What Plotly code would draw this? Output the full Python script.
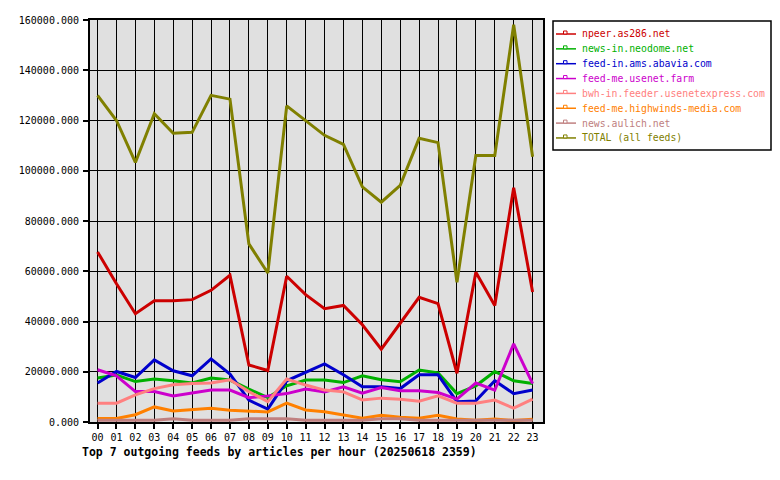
import plotly.graph_objects as go

hours = ["%02d" % h for h in range(24)]

npeer = [67700, 55000, 43100, 48300, 48300, 48700, 52400, 58400, 22700, 20500, 58000, 50700,
         45100, 46400, 38700, 29000, 39300, 49600, 47100, 19400, 59600, 46400, 93200, 51700]
neodome = [17500, 18700, 16100, 17100, 16400, 15500, 17500, 16700, 13100, 9700, 14400, 16700,
           16700, 15700, 18400, 16800, 16000, 20700, 19500, 11300, 14400, 20100, 16400, 15300]
abavia = [15500, 20100, 17700, 24700, 20400, 18400, 25100, 19100, 8700, 5100, 16400, 19700,
          23100, 18800, 14000, 14000, 13300, 18800, 18800, 8100, 8400, 16400, 11300, 12700]
usenetfarm = [20800, 18400, 12100, 12100, 10400, 11500, 12700, 12700, 9700, 10400, 11300, 13100,
              12000, 14000, 11500, 13700, 12400, 12400, 11700, 9100, 15500, 12700, 31100, 15300]
usenetexpress = [7500, 7500, 10800, 13300, 14800, 15300, 15500, 16800, 12100, 8100, 17100, 14700,
                 12700, 12000, 8800, 9500, 9100, 8300, 10400, 7500, 7500, 8700, 5500, 9100]
highwinds = [1400, 1400, 2900, 6000, 4400, 5100, 5500, 4700, 4300, 4000, 7500, 4800,
             4100, 2800, 1500, 2700, 1900, 1500, 2700, 1200, 700, 1200, 600, 1100]
aulich = [700, 700, 700, 700, 1300, 700, 700, 700, 1300, 1300, 1300, 700,
          700, 700, 700, 1300, 1300, 700, 700, 700, 700, 700, 700, 700]
total = [130000, 120000, 103300, 122700, 114900, 115300, 130000, 128500, 70900, 59300, 125800, 120000,
         114100, 110500, 93600, 87500, 94200, 112900, 111200, 55600, 106100, 106100, 158100, 105600]

names = ["npeer.as286.net", "news-in.neodome.net", "feed-in.ams.abavia.com", "feed-me.usenet.farm",
         "bwh-in.feeder.usenetexpress.com", "feed-me.highwinds-media.com", "news.aulich.net",
         "TOTAL (all feeds)"]
series = [npeer, neodome, abavia, usenetfarm, usenetexpress, highwinds, aulich, total]
colors = ["#cc0000", "#00b000", "#0000cc", "#cc00cc", "#ff8080", "#ff8000", "#c08080", "#808000"]

yticks = list(range(0, 160001, 20000))

FONT = "DejaVu Sans Mono"

# plot area in pixels
L, R, T, B = 90, 543, 20, 422
W, H = 780, 480


def px(x):
    return (x - L) / (R - L)


def py(y):
    return (B - y) / (B - T)


fig = go.Figure()
for name, vals, col in zip(names, series, colors):
    fig.add_trace(go.Scatter(x=list(range(24)), y=vals, mode="lines", name=name,
                             line=dict(color=col, width=3), showlegend=False))

shapes = []
annotations = []
# legend box
shapes.append(dict(type="rect", xref="paper", yref="paper", x0=px(553), x1=px(771), y0=py(150), y1=py(21),
                   line=dict(color="black", width=1.5), fillcolor="white", layer="above"))
for i, (name, col) in enumerate(zip(names, colors)):
    yy = 34 + i * 14.85
    shapes.append(dict(type="line", xref="paper", yref="paper", x0=px(556), x1=px(576), y0=py(yy), y1=py(yy),
                       line=dict(color=col, width=1.5), layer="above"))
    shapes.append(dict(type="rect", xref="paper", yref="paper", x0=px(563.5), x1=px(567), y0=py(yy), y1=py(yy - 3),
                       line=dict(color=col, width=1), fillcolor="white", layer="above"))
    annotations.append(dict(text=name, xref="paper", yref="paper", x=px(579.5), y=py(yy), xanchor="left",
                            yanchor="middle", showarrow=False, font=dict(family=FONT, size=9.8, color=col)))

annotations.append(dict(text="<b>Top 7 outgoing feeds by articles per hour (20250618 2359)</b>",
                        xref="paper", yref="paper", x=px(79.5), y=py(452), xanchor="left", yanchor="middle",
                        showarrow=False, font=dict(family=FONT, size=11.5, color="black")))

fig.update_layout(
    width=W, height=H,
    margin=dict(l=L, r=W - R, t=T, b=H - B, pad=0),
    paper_bgcolor="white", plot_bgcolor="#e0e0e0",
    shapes=shapes, annotations=annotations,
    showlegend=False,
    font=dict(family=FONT, size=10, color="black"),
)
fig.update_xaxes(range=[-0.4, 23.55], tickvals=list(range(24)), ticktext=hours,
                 showgrid=True, gridcolor="black", gridwidth=1,
                 showline=True, linecolor="black", linewidth=2, mirror=True,
                 ticks="outside", ticklen=5, tickcolor="black", tickwidth=1.5,
                 tickfont=dict(family=FONT, size=10, color="black"), zeroline=False, fixedrange=True)
fig.update_yaxes(range=[0, 160000], tickvals=yticks, tickformat=".3f",
                 showgrid=True, gridcolor="black", gridwidth=1,
                 showline=True, linecolor="black", linewidth=2, mirror=True,
                 ticks="outside", ticklen=5, tickcolor="black", tickwidth=1.5, ticklabelstandoff=2,
                 tickfont=dict(family=FONT, size=10, color="black"), zeroline=False, fixedrange=True)

fig.write_html("out.html")
